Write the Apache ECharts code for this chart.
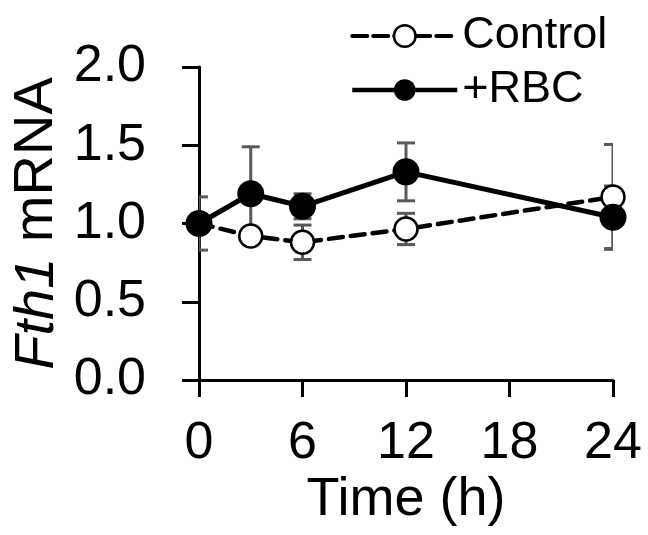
<!DOCTYPE html>
<html>
<head>
<meta charset="utf-8">
<script src="https://cdn.jsdelivr.net/npm/echarts@6/dist/echarts.min.js"></script>
<style>
html,body{margin:0;padding:0;background:#fff;}
#chart{width:648px;height:535px;}
</style>
</head>
<body>
<div id="chart"></div>
<script>
var times = [0, 3, 6, 12, 24];
var controlMean = [1.00, 0.92, 0.88, 0.965, 1.17];
var controlErr  = [0.17, 0.05, 0.11, 0.10, 0.335];
var rbcMean     = [1.00, 1.19, 1.11, 1.33, 1.04];
var rbcErr      = [0.00, 0.30, 0.08, 0.185, 0.20];
var xTicks = [0, 6, 12, 18, 24];
var yTicks = [0.0, 0.5, 1.0, 1.5, 2.0];

var FONT = 'Liberation Sans, Arial, Helvetica, sans-serif';

function pts(mean) { return times.map(function (t, i) { return [t, mean[i]]; }); }
function errs(mean, err) {
  return times.map(function (t, i) { return [t, mean[i] - err[i], mean[i] + err[i]]; })
              .filter(function (d) { return d[2] - d[1] > 0; });
}
function errRender(params, api) {
  var x = api.value(0);
  var lo = api.coord([x, api.value(1)]);
  var hi = api.coord([x, api.value(2)]);
  var half = 9;
  var left = params.coordSys.x;
  var cx1 = Math.max(hi[0] - half, left);
  var st = { stroke: '#595959', lineWidth: 3 };
  return {
    type: 'group',
    children: [
      { type: 'line', shape: { x1: hi[0], y1: hi[1], x2: lo[0], y2: lo[1] }, style: st },
      { type: 'line', shape: { x1: cx1, y1: hi[1], x2: hi[0] + half, y2: hi[1] }, style: st },
      { type: 'line', shape: { x1: cx1, y1: lo[1], x2: lo[0] + half, y2: lo[1] }, style: st }
    ]
  };
}

var chart = echarts.init(document.getElementById('chart'), null, { renderer: 'canvas' });
chart.setOption({
  animation: false,
  backgroundColor: '#fff',
  textStyle: { fontFamily: FONT, color: '#000' },
  grid: { left: 199, right: 35, top: 67, bottom: 155, containLabel: false, outerBoundsMode: 'none' },
  legend: {
    orient: 'vertical',
    left: 345,
    top: 8,
    itemWidth: 105,
    itemHeight: 27,
    itemGap: 8,
    textStyle: { fontFamily: FONT, fontSize: 45, color: '#000', lineHeight: 46 },
    data: [
      { name: 'Control', lineStyle: { width: 4, type: [15, 6] }, itemStyle: { borderWidth: 2.5 } },
      { name: '+RBC', lineStyle: { width: 4.5 } }
    ]
  },
  xAxis: {
    type: 'value',
    min: 0, max: 24, interval: 6,
    name: 'Time (h)',
    nameLocation: 'middle',
    nameGap: 93,
    nameMoveOverlap: false,
    nameTextStyle: { fontFamily: FONT, fontSize: 54, color: '#000' },
    axisLine: { show: true, onZero: false, lineStyle: { color: '#000', width: 3 } },
    axisTick: { show: true, inside: false, length: 17, lineStyle: { color: '#000', width: 3 } },
    axisLabel: { fontFamily: FONT, fontSize: 52, color: '#000', margin: 38,
      formatter: function (v) { return xTicks.indexOf(v) >= 0 ? String(v) : ''; } },
    splitLine: { show: false }
  },
  yAxis: {
    type: 'value',
    min: 0, max: 2, interval: 0.5,
    name: '{i|Fth1} mRNA',
    nameLocation: 'middle',
    nameGap: 134,
    nameMoveOverlap: false,
    nameTextStyle: { fontFamily: FONT, fontSize: 56, color: '#000',
      rich: { i: { fontFamily: FONT, fontSize: 56, fontStyle: 'italic', color: '#000' } } },
    axisLine: { show: true, lineStyle: { color: '#000', width: 3 } },
    axisTick: { show: true, inside: false, length: 17, lineStyle: { color: '#000', width: 3 } },
    axisLabel: { fontFamily: FONT, fontSize: 52, color: '#000', margin: 53,
      formatter: function (v) { return yTicks.indexOf(v) >= 0 ? v.toFixed(1) : ''; } },
    splitLine: { show: false }
  },
  series: [
    { type: 'custom', name: 'ctrlErr', clip: true, renderItem: errRender, data: errs(controlMean, controlErr), z: 1, silent: true },
    { type: 'custom', name: 'rbcErr', clip: true, renderItem: errRender, data: errs(rbcMean, rbcErr), z: 1, silent: true },
    {
      type: 'line', name: 'Control', data: pts(controlMean), z: 3,
      symbol: 'circle', symbolSize: 23,
      lineStyle: { color: '#000', width: 4.5, type: [14, 8], cap: 'round' },
      itemStyle: { color: '#fff', borderColor: '#000', borderWidth: 2.5 }
    },
    {
      type: 'line', name: '+RBC', data: pts(rbcMean), z: 4,
      symbol: 'circle', symbolSize: 27,
      lineStyle: { color: '#000', width: 5 },
      itemStyle: { color: '#000', borderColor: '#000', borderWidth: 0 }
    }
  ]
});
</script>
</body>
</html>
